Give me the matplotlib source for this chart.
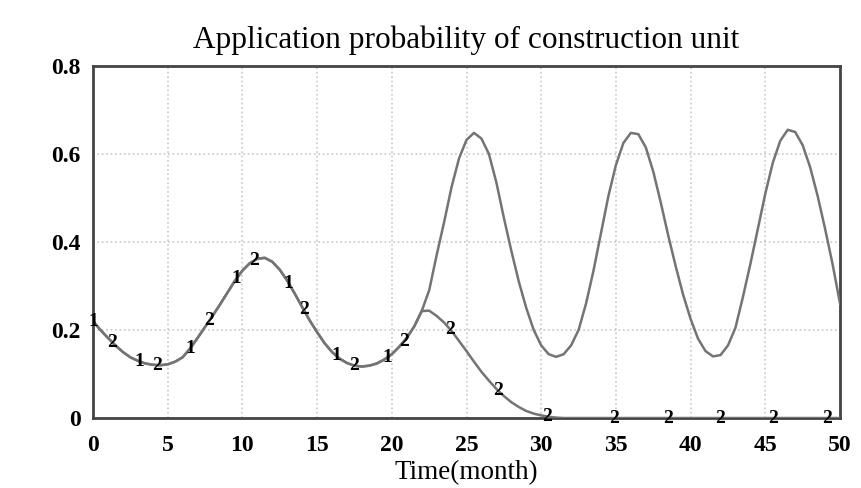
import matplotlib.pyplot as plt
import numpy as np

# half-month sample times and values
months = np.arange(0, 50.5, 0.5)
unit_1 = [0.220, 0.200, 0.182, 0.165, 0.150, 0.138, 0.130, 0.124, 0.121, 0.120,  # 0-4.5
          0.122, 0.128, 0.138, 0.158, 0.182, 0.207, 0.232, 0.258, 0.285, 0.312,  # 5-9.5
          0.335, 0.352, 0.362, 0.364, 0.355, 0.337, 0.312, 0.283, 0.252, 0.222,  # 10-14.5
          0.195, 0.170, 0.150, 0.135, 0.125, 0.119, 0.117, 0.119, 0.124, 0.133,  # 15-19.5
          0.145, 0.162, 0.182, 0.208, 0.243, 0.290, 0.370, 0.445, 0.525, 0.590,  # 20-24.5
          0.632, 0.648, 0.635, 0.600, 0.535, 0.455, 0.380, 0.310, 0.250, 0.200,  # 25-29.5
          0.165, 0.145, 0.139, 0.145, 0.165, 0.200, 0.260, 0.335, 0.420, 0.505,  # 30-34.5
          0.575, 0.625, 0.648, 0.645, 0.615, 0.560, 0.490, 0.415, 0.345, 0.280,  # 35-39.5
          0.225, 0.180, 0.152, 0.140, 0.143, 0.165, 0.205, 0.275, 0.350, 0.430,  # 40-44.5
          0.510, 0.580, 0.630, 0.655, 0.650, 0.620, 0.570, 0.505, 0.430, 0.350,  # 45-49.5
          0.260]
unit_2 = unit_1[:45] + [0.244, 0.232, 0.217, 0.198, 0.175, 0.152, 0.128, 0.105,
                        0.085, 0.066, 0.050, 0.036, 0.025, 0.016, 0.010, 0.006,
                        0.003, 0.001] + [0.0] * 38

# where the series numbers sit along each line
label_1_t = [0, 3.1, 6.5, 9.6, 13.1, 16.3, 19.7]
label_2_t = [1.3, 4.3, 7.8, 10.8, 14.1, 17.5, 20.8, 23.9, 27.1, 30.4, 34.9,
             38.5, 42.0, 45.5, 49.1]

x_ticks = [0, 5, 10, 15, 20, 25, 30, 35, 40, 45, 50]
y_ticks = [0, 0.2, 0.4, 0.6, 0.8]
y_labels = ["0", "0.2", "0.4", "0.6", "0.8"]

plt.rcParams["font.family"] = ["Liberation Serif", "DejaVu Serif"]

fig = plt.figure(figsize=(8.62, 4.88), dpi=100)
ax = fig.add_axes([0.1079, 0.1434, 0.8666, 0.7214])

line_color = "#747474"
ax.plot(months, unit_1, color=line_color, lw=1.8, zorder=3)
ax.plot(months, unit_2, color=line_color, lw=1.8, zorder=3)

for t in label_1_t:
    ax.text(t, np.interp(t, months, unit_1), "1", fontsize=14, fontweight="bold",
            ha="center", va="center", zorder=4)
for t in label_2_t:
    ax.text(t, np.interp(t, months, unit_2), "2", fontsize=14, fontweight="bold",
            ha="center", va="center", zorder=4)

ax.set_xlim(0, 50)
ax.set_ylim(0, 0.8)
ax.set_xticks(x_ticks)
ax.set_yticks(y_ticks)
ax.set_yticklabels(y_labels)
ax.tick_params(length=0, labelsize=17)
ax.tick_params(axis="x", pad=12)
ax.tick_params(axis="y", pad=9)
for lab in ax.get_xticklabels() + ax.get_yticklabels():
    lab.set_fontweight("bold")

ax.grid(True, color="#c8c8c8", linestyle=":", linewidth=1.2)
for side in ax.spines.values():
    side.set_color("#444444")
    side.set_linewidth(2)

ax.set_title("Application probability of construction unit", fontsize=22.5, pad=13)
ax.set_xlabel("Time(month)", fontsize=19.5, labelpad=3)

fig.savefig("out.png", dpi=100)
